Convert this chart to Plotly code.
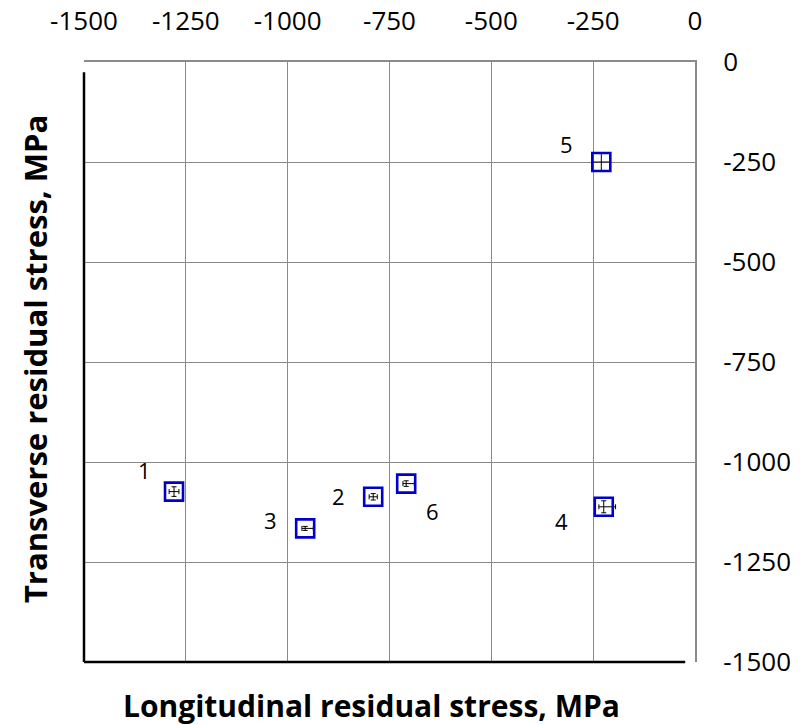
import plotly.graph_objects as go

labels = ["1", "2", "3", "4", "5", "6"]
long_stress = [-1279, -790, -957, -224, -230, -709]
trans_stress = [-1074, -1087, -1166, -1112, -250, -1054]
long_err_plus = [12, 10, 20, 29, 22, 20]
long_err_minus = [12, 10, 8, 12, 22, 8]
trans_err = [12, 8, 5, 15, 22, 7]
label_x = [-1351, -876, -1043, -328, -316, -645]
label_y = [-1020, -1085, -1145, -1147, -205, -1122]

tick_vals = [-1500, -1250, -1000, -750, -500, -250, 0]
tick_text = [str(v) for v in tick_vals]

FONT = "Open Sans"
GRID = "#8a8a8a"

fig = go.Figure()
fig.add_trace(go.Scatter(
    x=long_stress, y=trans_stress, mode="markers",
    marker=dict(symbol="square-open", size=18, color="#0000CC", line=dict(width=2.6, color="#0000CC")),
    error_x=dict(type="data", array=long_err_plus, arrayminus=long_err_minus, symmetric=False,
                 color="black", thickness=1, width=2.5),
    error_y=dict(type="data", array=trans_err, color="black", thickness=1, width=2.5),
    showlegend=False, hoverinfo="skip",
))

for t, x, y in zip(labels, label_x, label_y):
    fig.add_annotation(x=x, y=y, text=t, showarrow=False,
                       font=dict(family=FONT, size=22, color="black"))

fig.update_layout(
    width=800, height=725,
    margin=dict(l=84, r=105, t=62, b=63),
    paper_bgcolor="white", plot_bgcolor="white",
    font=dict(family=FONT, size=26, color="black"),
    xaxis=dict(range=[-1500, 0], side="top", tickvals=tick_vals, ticktext=tick_text,
               showgrid=True, gridcolor=GRID, gridwidth=1,
               showline=True, linecolor=GRID, linewidth=2,
               ticks="", ticklabelstandoff=20, zeroline=False, automargin=False,
               tickfont=dict(family=FONT, size=26, color="black")),
    yaxis=dict(range=[-1500, 0], side="right", tickvals=tick_vals, ticktext=tick_text,
               showgrid=True, gridcolor=GRID, gridwidth=1,
               showline=True, linecolor=GRID, linewidth=2,
               ticks="", ticklabelstandoff=21, zeroline=False, automargin=False,
               tickfont=dict(family=FONT, size=26, color="black")),
    shapes=[
        dict(type="line", xref="x domain", yref="y domain", x0=0, x1=0, y0=0, y1=0.983,
             line=dict(color="black", width=2.5)),
        dict(type="line", xref="x domain", yref="y domain", x0=0, x1=0.984, y0=0, y1=0,
             line=dict(color="black", width=2.5)),
    ],
)

fig.add_annotation(xref="paper", yref="paper", x=0.47, y=-0.072, yanchor="middle",
                   text="<b>Longitudinal residual stress, MPa</b>", showarrow=False,
                   font=dict(family=FONT, size=30, color="black"))
fig.add_annotation(xref="paper", yref="paper", x=-0.08, y=0.505, xanchor="center", yanchor="middle",
                   text="<b>Transverse residual stress, MPa</b>", showarrow=False, textangle=-90,
                   font=dict(family=FONT, size=31, color="black"))

fig.write_html("out.html", config={"displayModeBar": False},
               post_script="document.body.style.margin='0';document.body.style.overflow='hidden';")
